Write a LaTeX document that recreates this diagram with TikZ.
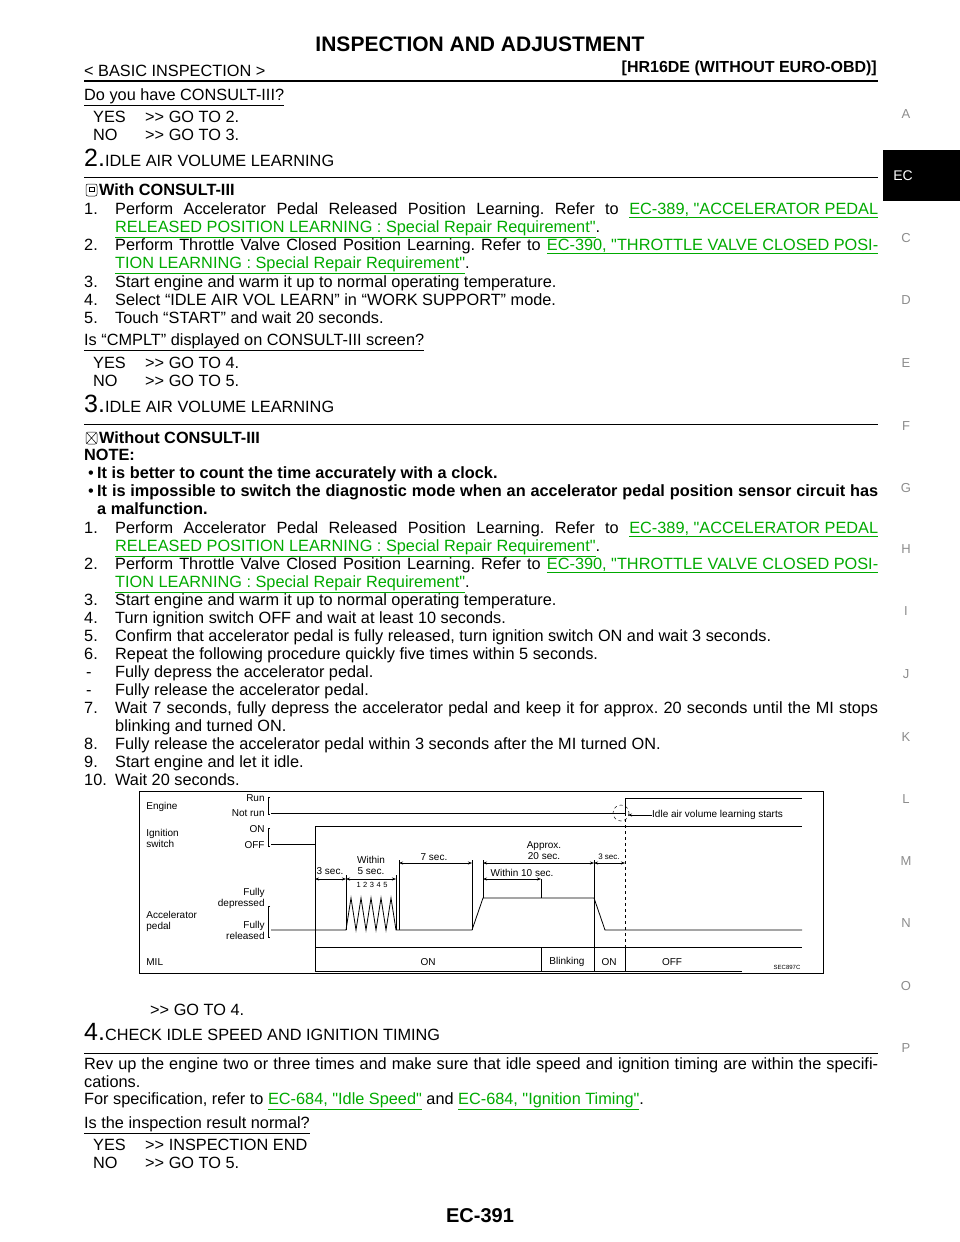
\documentclass[tikz,border=0pt]{standalone}
\usepackage{fontspec}
\setmainfont{Liberation Sans}[Ligatures=TeXOff]
\usetikzlibrary{arrows.meta}
\definecolor{lk}{RGB}{0,170,0}
\definecolor{tabg}{RGB}{140,140,140}
\frenchspacing
\newcommand\dq{\char34{}}
\newcommand\gto{{>}{>}}
\newcommand\tl[3]{\node[anchor=base west,inner sep=0] at (#1,#2) {#3};}
\newcommand\jl[3]{\node[anchor=base west,inner sep=0] at (#1,#2) {\makebox[\dimexpr 878pt-#1pt\relax][s]{#3}};}
\newcommand\lnk[1]{\textcolor{lk}{\underline{#1}}}
\begin{document}
\begin{tikzpicture}[x=1pt,y=-1pt,font=\fontsize{16.3}{18}\selectfont,
 ch/.style={font=\fontsize{10}{11}\selectfont,inner sep=0},
 tab/.style={font=\fontsize{13}{15}\selectfont,text=tabg},
 rl/.style={line width=0.7pt},
 dim/.style={{Stealth[length=4pt]}-{Stealth[length=4pt]},line width=0.5pt}]
\useasboundingbox (0,0) rectangle (960,1242);
% header
\node[font=\fontsize{21}{22}\bfseries] (title) at (480,44) {INSPECTION AND ADJUSTMENT};
\tl{84}{76}{< BASIC INSPECTION >}
\node[anchor=base east,inner sep=0,font=\fontsize{16}{18}\bfseries] (hdr) at (877,72) {[HR16DE (WITHOUT EURO-OBD)]};
\draw[line width=2pt] (84,81) -- (878,81);
% tabs
\fill (883,150) rectangle (960,201);
\node[text=white,font=\fontsize{14}{15}\selectfont] (ec) at (903,176) {EC};
\foreach \l/\y in {A/114,C/238,D/300,E/363,F/426,G/488,H/549,I/611,J/674,K/737,L/799,M/861,N/923,O/986,P/1048}
  \node[tab] (t\l) at (906,\y) {\l};
% section 1
\tl{84}{100}{\underline{Do you have CONSULT-III?}}
\tl{93}{122}{YES}\tl{145}{122}{\gto\ GO TO 2.}
\tl{93}{140}{NO}\tl{145}{140}{\gto\ GO TO 3.}
% section 2
\tl{84}{166}{{\fontsize{25}{25}\selectfont 2.}IDLE AIR VOLUME LEARNING}
\draw[rl] (84,177) -- (878,177);
\draw[rounded corners=2pt,line width=0.5pt] (86,184) rectangle (97,196);
\draw[line width=0.5pt] (89,187) rectangle (94,191);
\tl{99}{195}{\textbf{With CONSULT-III}}
\tl{84}{214}{1.}\jl{115}{214}{Perform Accelerator Pedal Released Position Learning. Refer to \lnk{EC-389, \dq ACCELERATOR PEDAL}}
\tl{115}{232}{\lnk{RELEASED POSITION LEARNING : Special Repair Requirement\dq}.}
\tl{84}{250}{2.}\jl{115}{250}{Perform Throttle Valve Closed Position Learning. Refer to \lnk{EC-390, \dq THROTTLE VALVE CLOSED POSI-}}
\tl{115}{268}{\lnk{TION LEARNING : Special Repair Requirement\dq}.}
\tl{84}{287}{3.}\tl{115}{287}{Start engine and warm it up to normal operating temperature.}
\tl{84}{305}{4.}\tl{115}{305}{Select “IDLE AIR VOL LEARN” in “WORK SUPPORT” mode.}
\tl{84}{323}{5.}\tl{115}{323}{Touch “START” and wait 20 seconds.}
\tl{84}{345}{\underline{Is “CMPLT” displayed on CONSULT-III screen?}}
\tl{93}{368}{YES}\tl{145}{368}{\gto\ GO TO 4.}
\tl{93}{386}{NO}\tl{145}{386}{\gto\ GO TO 5.}
% section 3
\tl{84}{412}{{\fontsize{25}{25}\selectfont 3.}IDLE AIR VOLUME LEARNING}
\draw[rl] (84,424) -- (878,424);
\draw[rounded corners=2pt,line width=0.5pt] (86,432) rectangle (97,444);
\draw[line width=0.5pt] (87,433) -- (96,443) (96,433) -- (87,443);
\tl{99}{443}{\textbf{Without CONSULT-III}}
\tl{84}{460}{\textbf{NOTE:}}
\tl{88}{478}{•}\tl{97}{478}{\textbf{It is better to count the time accurately with a clock.}}
\tl{88}{496}{•}\jl{97}{496}{\textbf{It is impossible to switch the diagnostic mode when an accelerator pedal position sensor circuit has}}
\tl{97}{514}{\textbf{a malfunction.}}
\tl{84}{533}{1.}\jl{115}{533}{Perform Accelerator Pedal Released Position Learning. Refer to \lnk{EC-389, \dq ACCELERATOR PEDAL}}
\tl{115}{551}{\lnk{RELEASED POSITION LEARNING : Special Repair Requirement\dq}.}
\tl{84}{569}{2.}\jl{115}{569}{Perform Throttle Valve Closed Position Learning. Refer to \lnk{EC-390, \dq THROTTLE VALVE CLOSED POSI-}}
\tl{115}{587}{\lnk{TION LEARNING : Special Repair Requirement\dq}.}
\tl{84}{605}{3.}\tl{115}{605}{Start engine and warm it up to normal operating temperature.}
\tl{84}{623}{4.}\tl{115}{623}{Turn ignition switch OFF and wait at least 10 seconds.}
\tl{84}{641}{5.}\tl{115}{641}{Confirm that accelerator pedal is fully released, turn ignition switch ON and wait 3 seconds.}
\tl{84}{659}{6.}\tl{115}{659}{Repeat the following procedure quickly five times within 5 seconds.}
\tl{86}{677}{-}\tl{115}{677}{Fully depress the accelerator pedal.}
\tl{86}{695}{-}\tl{115}{695}{Fully release the accelerator pedal.}
\tl{84}{713}{7.}\jl{115}{713}{Wait 7 seconds, fully depress the accelerator pedal and keep it for approx. 20 seconds until the MI stops}
\tl{115}{731}{blinking and turned ON.}
\tl{84}{749}{8.}\tl{115}{749}{Fully release the accelerator pedal within 3 seconds after the MI turned ON.}
\tl{84}{767}{9.}\tl{115}{767}{Start engine and let it idle.}
\tl{84}{785}{10.}\tl{115}{785}{Wait 20 seconds.}
% chart
\draw[line width=1pt] (139,791) rectangle (823,973);
\begin{scope}[line width=0.8pt]
\node[ch,anchor=west] (eng) at (146,807) {Engine};
\node[ch,anchor=east] (run) at (265,798) {Run};
\node[ch,anchor=east] (nrun) at (265,813) {Not run};
\draw[line width=0.4pt] (270,797)--(268,797)--(268,814)--(270,814);
\node[ch,anchor=west,align=left] (ign) at (146,838) {Ignition\\switch};
\node[ch,anchor=east] (on) at (265,829) {ON};
\node[ch,anchor=east] (off) at (265,845) {OFF};
\draw[line width=0.4pt] (270,828)--(268,828)--(268,846)--(270,846);
\node[ch,anchor=west,align=left] (acc) at (146,921) {Accelerator\\pedal};
\node[ch,anchor=east,align=right] (fd) at (265,898) {Fully\\depressed};
\node[ch,anchor=east,align=right] (fr) at (265,930) {Fully\\released};
\draw[line width=0.4pt] (270,906)--(268,906)--(268,937)--(270,937);
\node[ch,anchor=west] (mil) at (146,962) {MIL};
\draw (271,813) -- (625,813) -- (625,798) -- (802,798);
\draw (271,844) -- (315,844) -- (315,826) -- (802,826);
\draw (271,930) -- (346,930) -- (351,898) -- (356,930) -- (361,898) -- (366,930) -- (371,898) -- (376,930) -- (381,898) -- (386,930) -- (391,898) -- (396,930) -- (472,930) -- (483,898) -- (594,898) -- (605,930) -- (802,930);
\draw (315,947) -- (802,947);
\draw (315,971) -- (742,971);
\draw (315,947) -- (315,971) (541,947)--(541,971) (594,947)--(594,971) (625,947)--(625,971);
\node[ch] (m1) at (428,962) {ON};
\node[ch] (m2) at (567,962) {Blinking};
\node[ch] (m3) at (609,962) {ON};
\node[ch] (m4) at (672,962) {OFF};
\node[ch,font=\fontsize{6}{7}\selectfont] (sec) at (787,967) {SEC897C};
\end{scope}
\begin{scope}[line width=0.5pt]
\draw (315,844) -- (315,947);
\draw (346,875) -- (346,930);
\draw (399,860) -- (399,930);
\draw (396,875) -- (396,930);
\draw (472,860) -- (472,930);
\draw (483,860) -- (483,898);
\draw (541,879) -- (541,898);
\draw (594,860) -- (594,947);
\draw[dashed] (625,813) -- (625,947);
\draw[dashed] (621,813) circle (8);
\end{scope}
\draw[dim] (315,879) -- (346,879);
\draw[dim] (346,879) -- (396,879);
\draw[dim] (399,863) -- (472,863);
\draw[dim] (483,863) -- (594,863);
\draw[dim] (594,863) -- (625,863);
\draw[dim] (483,879) -- (541,879);
\node[ch] (d1) at (330,871) {3 sec.};
\node[ch,align=center] (d2) at (371,865) {Within\\5 sec.};
\node[ch,font=\fontsize{7.5}{9}\selectfont] (d3) at (372,885) {1\,\,2\,\,3\,\,4\,\,5};
\node[ch] (d4) at (434,857) {7 sec.};
\node[ch,align=center] (d5) at (544,851) {Approx.\\20 sec.};
\node[ch,font=\fontsize{8}{9}\selectfont] (d6) at (609,857) {3 sec.};
\node[ch] (d7) at (522,873) {Within 10 sec.};
\node[ch,anchor=west] (idle) at (652,815) {Idle air volume learning starts};
\draw[-{Stealth[length=4pt]},line width=0.5pt] (idle.west) -- (628,815);
\tl{150}{1015}{\gto\ GO TO 4.}
% section 4
\tl{84}{1040}{{\fontsize{25}{25}\selectfont 4.}CHECK IDLE SPEED AND IGNITION TIMING}
\draw[rl] (84,1053) -- (878,1053);
\jl{84}{1069}{Rev up the engine two or three times and make sure that idle speed and ignition timing are within the specifi-}
\tl{84}{1087}{cations.}
\tl{84}{1104}{For specification, refer to \lnk{EC-684, \dq Idle Speed\dq} and \lnk{EC-684, \dq Ignition Timing\dq}.}
\tl{84}{1128}{\underline{Is the inspection result normal?}}
\tl{93}{1150}{YES}\tl{145}{1150}{\gto\ INSPECTION END}
\tl{93}{1168}{NO}\tl{145}{1168}{\gto\ GO TO 5.}
\node[font=\fontsize{20}{22}\bfseries] (foot) at (480,1216) {EC-391};
\end{tikzpicture}
\end{document}
